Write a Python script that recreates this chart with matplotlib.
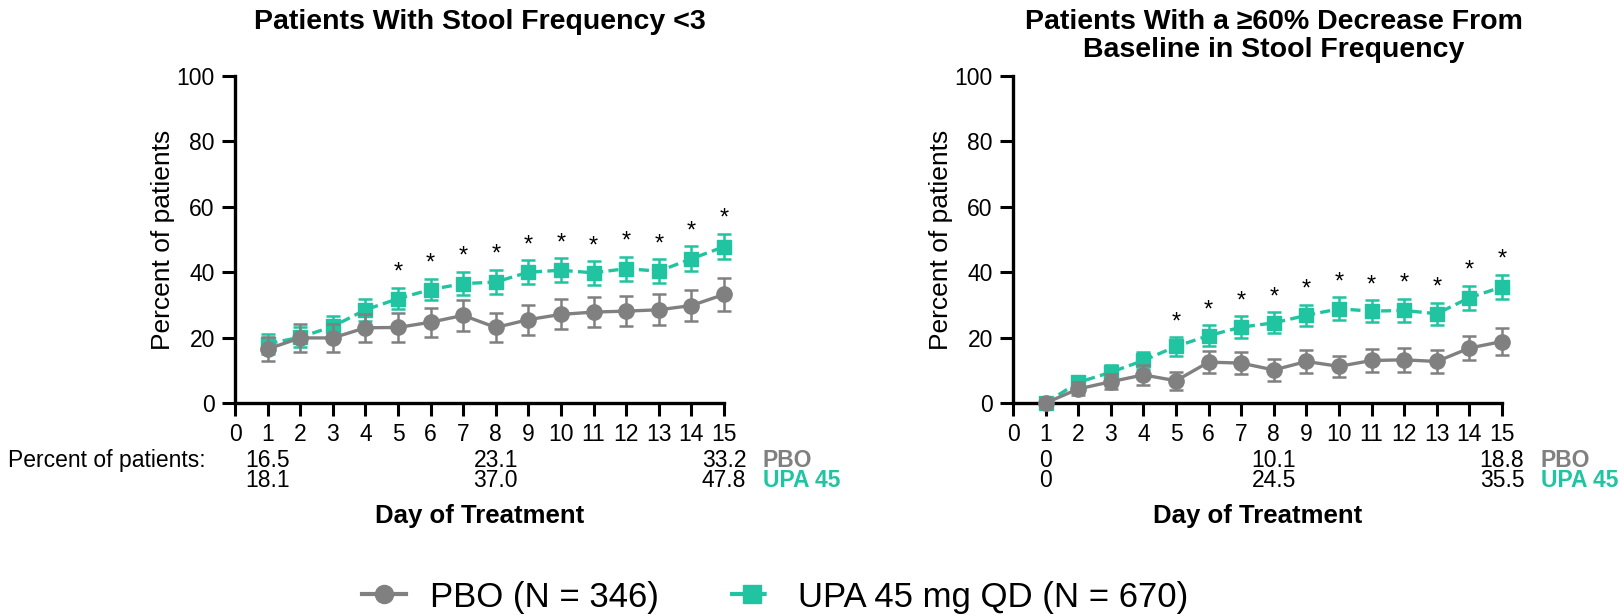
import matplotlib
matplotlib.use('Agg')

import numpy as np
from matplotlib import pyplot as plt
from matplotlib.lines import Line2D

plt.rcParams['font.family'] = ['Liberation Sans', 'DejaVu Sans']

days = np.arange(1, 16)

# left panel: stool frequency < 3
pbo_left = [16.5, 19.9, 19.9, 23.0, 23.1, 24.7, 26.8, 23.1, 25.5, 27.1, 27.8, 28.1, 28.5, 29.8, 33.2]
pbo_left_err = [3.8, 4.2, 4.2, 4.2, 4.4, 4.5, 4.7, 4.5, 4.6, 4.6, 4.7, 4.7, 4.75, 4.85, 5.0]
upa_left = [18.1, 20.1, 23.4, 28.5, 31.9, 34.7, 36.5, 37.0, 40.0, 40.6, 39.8, 41.1, 40.3, 44.1, 47.8]
upa_left_err = [3.1, 3.0, 3.1, 3.4, 3.3, 3.3, 3.6, 3.7, 3.6, 3.7, 3.6, 3.7, 3.7, 3.8, 3.9]

# right panel: >=60% decrease from baseline
pbo_right = [0, 4.3, 6.5, 8.6, 6.8, 12.5, 12.2, 10.1, 12.7, 11.2, 13.0, 13.2, 12.7, 16.8, 18.8]
pbo_right_err = [0, 2.0, 2.3, 3.0, 2.8, 3.4, 3.3, 3.3, 3.4, 3.3, 3.6, 3.6, 3.4, 3.7, 4.0]
upa_right = [0, 6.3, 9.4, 13.0, 17.3, 20.6, 23.2, 24.5, 26.8, 28.8, 28.1, 28.3, 27.3, 32.2, 35.5]
upa_right_err = [0, 1.8, 2.2, 2.5, 2.8, 3.2, 3.3, 3.2, 3.3, 3.5, 3.4, 3.6, 3.4, 3.7, 3.7]

star_days = [5, 6, 7, 8, 9, 10, 11, 12, 13, 14, 15]
table_days = [1, 8, 15]

titles = ['Patients With Stool Frequency <3',
          'Patients With a \u226560% Decrease From\nBaseline in Stool Frequency']
labels = ['PBO (N = 346)', 'UPA 45 mg QD (N = 670)']

GRAY = '#808080'
TEAL = '#20c4a0'
DASH = (0, (3, 1.6))

fig = plt.figure(figsize=(16.19, 6.16), dpi=100)
ax1 = fig.add_axes([235/1619, 1-403/616, 489/1619, 327/616])
ax2 = fig.add_axes([1013/1619, 1-403/616, 489/1619, 327/616])

panels = [(ax1, pbo_left, pbo_left_err, upa_left, upa_left_err),
          (ax2, pbo_right, pbo_right_err, upa_right, upa_right_err)]


def fmt(v):
    return '0' if v == 0 else '%.1f' % v


for ax, pbo, pbo_err, upa, upa_err in panels:
    ax.errorbar(days, upa, yerr=upa_err, color=TEAL, marker='s', markersize=10,
                lw=2.4, ls=DASH, elinewidth=1.8, capsize=5, capthick=1.8,
                clip_on=False, zorder=3)
    ax.errorbar(days, pbo, yerr=pbo_err, color=GRAY, marker='o', markersize=11,
                lw=2.4, elinewidth=1.8, capsize=5, capthick=1.8,
                clip_on=False, zorder=4)
    for d in star_days:
        i = d - 1
        ax.text(d, upa[i] + upa_err[i] + 1.2, '*', ha='center', va='bottom', fontsize=17)

    ax.set_xlim(0, 15)
    ax.set_ylim(0, 100)
    ax.set_xticks(range(0, 16))
    ax.set_yticks(range(0, 101, 20))
    ax.spines['top'].set_visible(False)
    ax.spines['right'].set_visible(False)
    for s in ['left', 'bottom']:
        ax.spines[s].set_linewidth(2.4)
    ax.tick_params(width=2.2, length=9.5, labelsize=16.5, pad=5)
    ax.set_ylabel('Percent of patients', fontsize=19, labelpad=1)

    # values under the axis
    for d in table_days:
        i = d - 1
        ax.annotate(fmt(pbo[i]), xy=(d, 0), xycoords=('data', 'axes fraction'),
                    xytext=(0, -41.5), textcoords='offset points', ha='center',
                    va='center', fontsize=16.5, annotation_clip=False)
        ax.annotate(fmt(upa[i]), xy=(d, 0), xycoords=('data', 'axes fraction'),
                    xytext=(0, -56), textcoords='offset points', ha='center',
                    va='center', fontsize=16.5, annotation_clip=False)
    ax.annotate('PBO', xy=(15, 0), xycoords=('data', 'axes fraction'), xytext=(28, -41.5),
                textcoords='offset points', ha='left', va='center', fontsize=16.5,
                fontweight='bold', color=GRAY, annotation_clip=False)
    ax.annotate('UPA 45', xy=(15, 0), xycoords=('data', 'axes fraction'), xytext=(28, -56),
                textcoords='offset points', ha='left', va='center', fontsize=16.5,
                fontweight='bold', color=TEAL, annotation_clip=False)
    ax.annotate('Day of Treatment', xy=(0.5, 0), xycoords='axes fraction', xytext=(0, -73),
                textcoords='offset points', ha='center', va='top', fontsize=18.5,
                fontweight='bold', annotation_clip=False)

fig.text(8/1619, 1-460/616, 'Percent of patients:', ha='left', va='center', fontsize=16.5)

fig.text(480/1619, 1-22/616, titles[0], ha='center', va='center', fontsize=20.5, fontweight='bold')
fig.text(1274/1619, 1-36/616, titles[1], ha='center', va='center', fontsize=20.5,
         fontweight='bold', linespacing=1.1)

handles = [Line2D([], [], color=GRAY, marker='o', markersize=13, lw=3),
           Line2D([], [], color=TEAL, marker='s', markersize=13, lw=3, ls=(0, (3.5, 1.8)))]
fig.legend(handles, labels, loc='center', bbox_to_anchor=(775/1619, 1-597/616), ncol=2,
           frameon=False, fontsize=25, handlelength=1.25, handletextpad=0.7,
           columnspacing=2.05)

plt.savefig('out.png', dpi=100)
